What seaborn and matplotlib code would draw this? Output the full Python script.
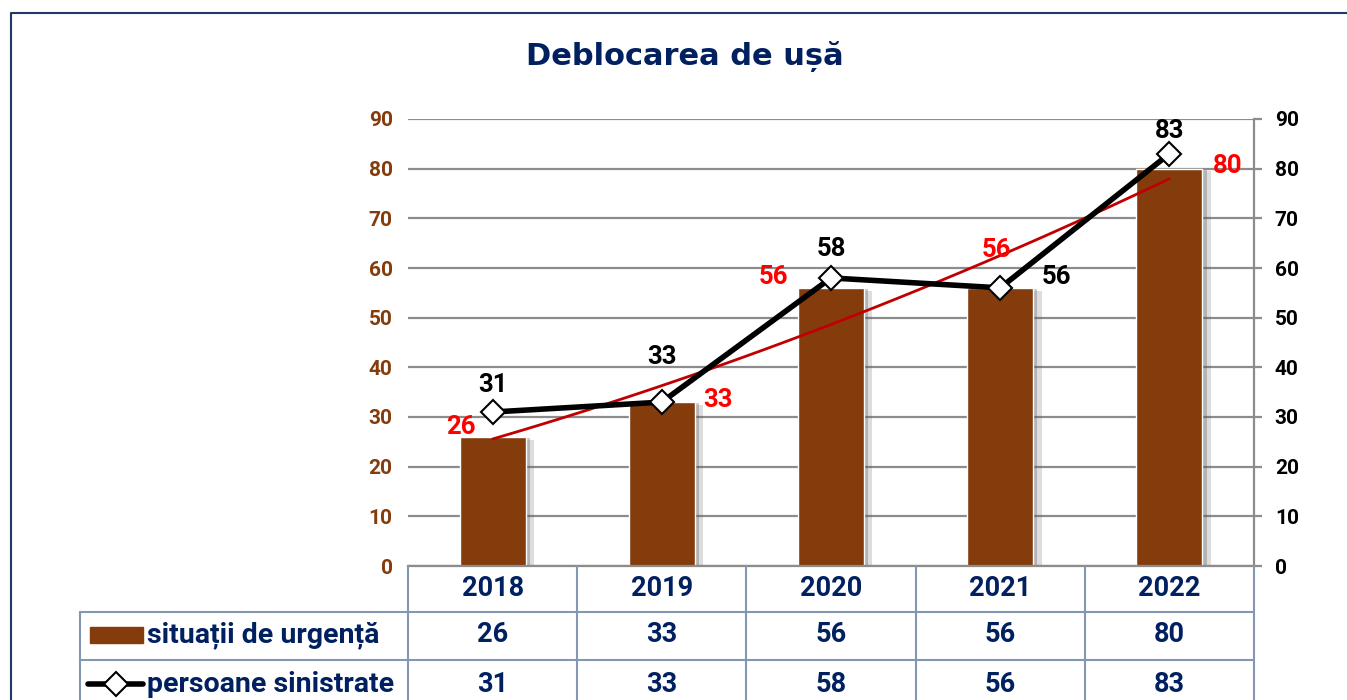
import numpy as np
import pandas as pd
import matplotlib.pyplot as plt
import matplotlib.patheffects as pe
import matplotlib.transforms as mtransforms
from matplotlib.lines import Line2D
from matplotlib.patches import Rectangle
import seaborn as sns

# date
ani = ['2018', '2019', '2020', '2021', '2022']
situatii = [26, 33, 56, 56, 80]
persoane = [31, 33, 58, 56, 83]
titlu = 'Deblocarea de ușă'
serie1 = 'situații de urgență'
serie2 = 'persoane sinistrate'

sns.set_theme(style='white')
plt.rcParams['font.family'] = ['Roboto', 'DejaVu Sans']
plt.rcParams['font.weight'] = 'bold'

BRUN = '#843C0C'
NAVY = '#002060'
GRID = '#8C8C8C'
TBL = '#8497B0'
W, H = 1347, 700


def fx(x):
    return x / W


def fy(y):
    return 1 - y / H


fig = plt.figure(figsize=(W / 100, H / 100), dpi=100)
ax = fig.add_axes([fx(408), fy(566), (1254 - 408) / W, (566 - 119) / H])

df = pd.DataFrame({'an': ani, 'situatii': situatii, 'persoane': persoane})
sns.barplot(data=df, x='an', y='situatii', color=BRUN, saturation=1, width=0.39,
            edgecolor='white', linewidth=1, ax=ax, zorder=2)
for p in ax.patches:
    p.set_path_effects([pe.SimplePatchShadow(offset=(6, -2), shadow_rgbFace='#555555', alpha=0.2),
                        pe.SimplePatchShadow(offset=(3, -1), shadow_rgbFace='#555555', alpha=0.3),
                        pe.Normal()])

ax.set_xlim(-0.5, 4.5)
ax.set_ylim(0, 90)
ax.set_yticks(range(0, 91, 10))
ax.yaxis.grid(True, color=GRID, lw=1.6)
ax.set_axisbelow(True)
for s in ['left', 'top', 'right']:
    ax.spines[s].set_visible(False)
ax.spines['bottom'].set_color(GRID)
ax.spines['bottom'].set_linewidth(1.6)
ax.set_xlabel('')
ax.set_ylabel('')
ax.set_xticklabels([])
ax.tick_params(axis='x', length=0)
ax.tick_params(axis='y', length=0, pad=11, labelsize=15, labelcolor=BRUN)

# linie de tendinta (polinomiala)
coef = np.polyfit(np.arange(len(situatii)), situatii, 2)
xs = np.linspace(0, len(situatii) - 1, 100)
ax.plot(xs, np.polyval(coef, xs), color='#C00000', lw=2, zorder=5)

# etichete rosii
off_rosu = [(-32, 10), (56, 2), (-58, 11), (-4, 38), (58, 3)]
for i, v in enumerate(situatii):
    ax.annotate(str(v), (i, v), xytext=off_rosu[i], textcoords='offset pixels',
                ha='center', va='center', color='#FF0000', fontsize=18.5, fontweight='bold', zorder=6)

ax2 = ax.twinx()
ax2.set_ylim(0, 90)
ax2.set_yticks(range(0, 91, 10))
sns.lineplot(x=np.arange(len(persoane)), y=persoane, ax=ax2, color='black', lw=4,
             marker='D', markersize=12.5, markerfacecolor='white', markeredgecolor='black',
             markeredgewidth=1.5, zorder=4)
for s in ['left', 'top', 'bottom']:
    ax2.spines[s].set_visible(False)
ax2.spines['right'].set_color(GRID)
ax2.spines['right'].set_linewidth(1.6)
ax2.set_ylabel('')
ax2.tick_params(axis='y', length=6, width=1.6, color=GRID, pad=9, labelsize=15, labelcolor='black')

off_negru = [(0, 27), (0, 45), (0, 29), (56, 11), (0, 23)]
for i, v in enumerate(persoane):
    ax2.annotate(str(v), (i, v), xytext=off_negru[i], textcoords='offset pixels',
                 ha='center', va='center', color='black', fontsize=18.5, fontweight='bold')

# tabel de date
tr = mtransforms.blended_transform_factory(ax.transData, fig.transFigure)
for b in np.arange(-0.5, len(ani), 1.0):
    fig.add_artist(Line2D([b, b], [fy(566), 0], transform=tr, color=TBL, lw=1.5, clip_on=False))
for yy in [612, 660]:
    fig.add_artist(Line2D([fx(80), fx(1254)], [fy(yy), fy(yy)], transform=fig.transFigure,
                          color=TBL, lw=1.5))
fig.add_artist(Line2D([fx(80), fx(80)], [fy(612), 0], transform=fig.transFigure, color=TBL, lw=1.5))

for i in range(len(ani)):
    fig.text(i, fy(588), ani[i], transform=tr, ha='center', va='center',
             color=NAVY, fontsize=19.5, fontweight='bold')
    fig.text(i, fy(635), str(situatii[i]), transform=tr, ha='center', va='center',
             color=NAVY, fontsize=19.5, fontweight='bold')
    fig.text(i, fy(684), str(persoane[i]), transform=tr, ha='center', va='center',
             color=NAVY, fontsize=19.5, fontweight='bold')

fig.add_artist(Rectangle((fx(90), fy(643)), fx(143) - fx(90), fy(627) - fy(643),
                         transform=fig.transFigure, color=BRUN))
fig.add_artist(Line2D([fx(88), fx(143)], [fy(684), fy(684)], transform=fig.transFigure,
                      color='black', lw=4))
fig.add_artist(Line2D([fx(116)], [fy(684)], transform=fig.transFigure, marker='D', markersize=12.5,
                      markerfacecolor='white', markeredgecolor='black', markeredgewidth=1.5))
fig.text(fx(147), fy(635), serie1, ha='left', va='center', color=NAVY, fontsize=20.5, fontweight='bold')
fig.text(fx(147), fy(684), serie2, ha='left', va='center', color=NAVY, fontsize=20.5, fontweight='bold')

# titlu si chenar
fig.text(fx(685), fy(57), titlu, ha='center', va='center', color=NAVY, fontsize=22,
         fontweight='bold', family=['DejaVu Sans'])
fig.add_artist(Line2D([fx(11), fx(11), 1], [0, fy(13), fy(13)], transform=fig.transFigure,
                      color='#1F3864', lw=1.5))

fig.savefig('out.png', dpi=100)
